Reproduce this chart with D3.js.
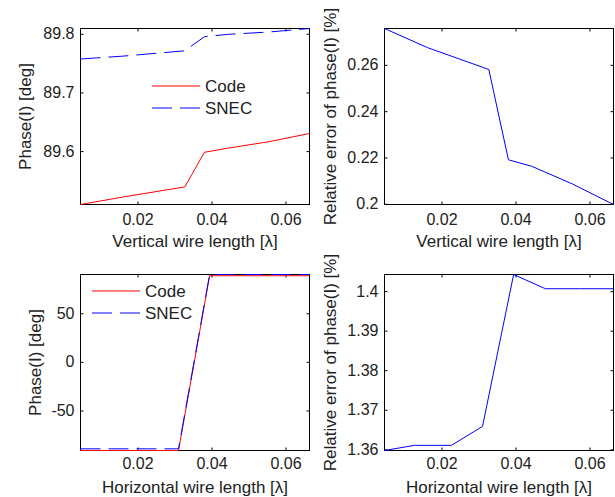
<!DOCTYPE html>
<html>
<head>
<meta charset="utf-8">
<script src="https://cdn.jsdelivr.net/npm/d3@7"></script>
<style>
  body { margin: 0; background: #fff; }
  svg { display: block; font-family: "Liberation Sans", Arial, sans-serif; }
</style>
</head>
<body>
<svg id="paper" width="615" height="497"></svg>
<script>
// values
var vertLength = [0.0046, 0.0163, 0.0328, 0.0381, 0.0444, 0.0555, 0.0665];
var vertCode = [89.509, 89.522, 89.539, 89.598, 89.605, 89.616, 89.630];
var vertSnec = [89.757, 89.762, 89.771, 89.795, 89.799, 89.803, 89.809];
var vertError = [0.2757, 0.2674, 0.258, 0.219, 0.2162, 0.2085, 0.1997];

var horLength = [0.0046, 0.0127, 0.0227, 0.0311, 0.0395, 0.0481, 0.0573, 0.0665];
var horCode = [-91.122, -91.124, -91.124, -91.128, 88.539, 88.542, 88.542, 88.542];
var horSnec = [-89.40, -89.40, -89.40, -89.40, 89.80, 89.80, 89.80, 89.80];
var horError = [1.3597, 1.361, 1.361, 1.3658, 1.4042, 1.4006, 1.4006, 1.4006];

var xTicks = [0.02, 0.04, 0.06];
var vertPhaseTicks = [89.6, 89.7, 89.8];
var vertErrorTicks = [0.2, 0.22, 0.24, 0.26];
var horPhaseTicks = [-50, 0, 50];
var horErrorTicks = [1.36, 1.37, 1.38, 1.39, 1.4];

var seriesNames = ["Code", "SNEC"];
var seriesColors = ["#ff0000", "#0000ff"];
var seriesDash = [null, "20,8"];

var svg = d3.select("#paper");

function drawPanel(box, xs, series, yTicks, xLabel, yLabel, yLabelX, legendAt) {
    var x = d3.scaleLinear().domain(d3.extent(xs)).range([box.left, box.right]);
    var allY = [].concat.apply([], series.map(function (s) { return s.values; }));
    var y = d3.scaleLinear().domain(d3.extent(allY)).range([box.bottom, box.top]);

    var g = svg.append("g");

    g.append("rect")
        .attr("x", box.left)
        .attr("y", box.top)
        .attr("width", box.right - box.left)
        .attr("height", box.bottom - box.top)
        .attr("fill", "#fff")
        .attr("stroke", "#000")
        .attr("stroke-width", 1);

    var fmt = function (d) { return String(d); };

    var bottomAxis = g.append("g").attr("transform", "translate(0," + box.bottom + ")")
        .call(d3.axisBottom(x).tickValues(xTicks).tickSize(-3).tickPadding(box.pad).tickFormat(fmt));
    var leftAxis = g.append("g").attr("transform", "translate(" + box.left + ",0)")
        .call(d3.axisLeft(y).tickValues(yTicks).tickSize(-3).tickPadding(6).tickFormat(fmt));
    g.append("g").attr("transform", "translate(0," + box.top + ")")
        .call(d3.axisTop(x).tickValues(xTicks).tickSize(-3).tickFormat(""));
    g.append("g").attr("transform", "translate(" + box.right + ",0)")
        .call(d3.axisRight(y).tickValues(yTicks).tickSize(-3).tickFormat(""));

    g.selectAll(".domain").remove();
    g.selectAll(".tick line").attr("stroke", "#000");
    [bottomAxis, leftAxis].forEach(function (a) {
        a.attr("font-family", null).attr("font-size", null);
        a.selectAll("text").attr("fill", "#222").style("font-size", "16px");
    });

    var line = d3.line()
        .x(function (d, i) { return x(xs[i]); })
        .y(function (d) { return y(d); });

    series.forEach(function (s) {
        g.append("path")
            .datum(s.values)
            .attr("d", line)
            .attr("fill", "none")
            .attr("stroke", s.color)
            .attr("stroke-width", 1)
            .attr("stroke-dasharray", s.dash);
    });

    g.append("text")
        .attr("x", (box.left + box.right) / 2)
        .attr("y", box.bottom + 42)
        .attr("text-anchor", "middle")
        .attr("fill", "#222")
        .style("font-size", "17px")
        .text(xLabel);

    var cy = (box.top + box.bottom) / 2;
    g.append("text")
        .attr("transform", "translate(" + yLabelX + "," + cy + ") rotate(-90)")
        .attr("text-anchor", "middle")
        .attr("fill", "#222")
        .style("font-size", "17px")
        .text(yLabel);

    if (legendAt) {
        var lg = g.append("g").attr("transform", "translate(" + legendAt[0] + "," + legendAt[1] + ")");
        series.forEach(function (s, i) {
            var ly = i * 22;
            lg.append("line")
                .attr("x1", 0).attr("x2", 48)
                .attr("y1", ly).attr("y2", ly)
                .attr("stroke", s.color)
                .attr("stroke-dasharray", s.dash);
            lg.append("text")
                .attr("x", 53).attr("y", ly)
                .attr("dy", "0.36em")
                .attr("fill", "#222")
                .style("font-size", "17px")
                .text(s.name);
        });
    }
}

function twoSeries(code, snec) {
    return [code, snec].map(function (v, i) {
        return { name: seriesNames[i], values: v, color: seriesColors[i], dash: seriesDash[i] };
    });
}

var topRow = { top: 28.5, bottom: 204.5, pad: 9 };
var bottomRow = { top: 274.5, bottom: 450.5, pad: 7.5 };
var leftCol = { left: 80.5, right: 309.5 };
var rightCol = { left: 384.5, right: 613.5 };

function box(col, row) {
    return { left: col.left, right: col.right, top: row.top, bottom: row.bottom, pad: row.pad };
}

drawPanel(box(leftCol, topRow), vertLength, twoSeries(vertCode, vertSnec), vertPhaseTicks,
    "Vertical wire length [\u03bb]", "Phase(I) [deg]", 31, [152, 86]);

drawPanel(box(rightCol, topRow), vertLength,
    [{ name: "", values: vertError, color: "#0000ff", dash: null }], vertErrorTicks,
    "Vertical wire length [\u03bb]", "Relative error of phase(I) [%]", 336, null);

drawPanel(box(leftCol, bottomRow), horLength, twoSeries(horCode, horSnec), horPhaseTicks,
    "Horizontal wire length [\u03bb]", "Phase(I) [deg]", 41, [92, 291]);

drawPanel(box(rightCol, bottomRow), horLength,
    [{ name: "", values: horError, color: "#0000ff", dash: null }], horErrorTicks,
    "Horizontal wire length [\u03bb]", "Relative error of phase(I) [%]", 336, null);
</script>
</body>
</html>
